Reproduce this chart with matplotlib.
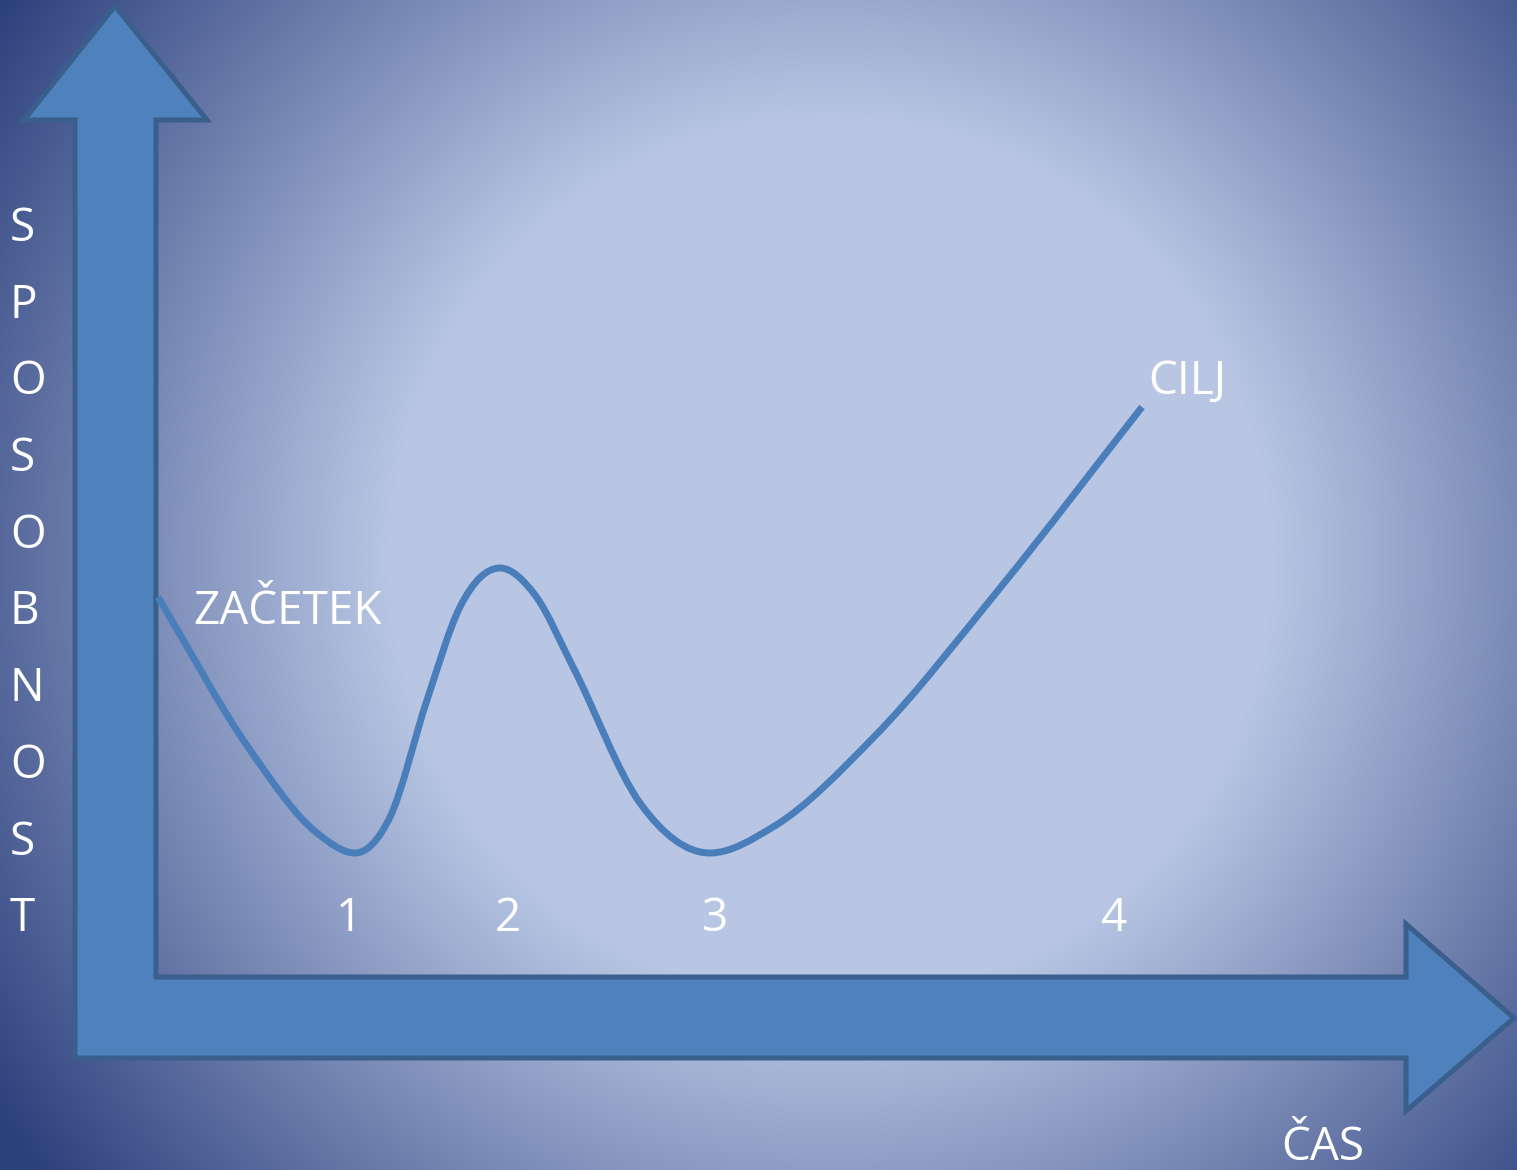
import numpy as np
import matplotlib
matplotlib.use("Agg")
import matplotlib.pyplot as plt
from matplotlib.patches import Polygon, PathPatch
from matplotlib.path import Path

# ---- data (time vs. ability) ----
cas = [158, 250, 317, 355, 390, 427, 460, 500, 535, 573, 640, 710, 773, 873, 1000, 1142]
sposobnost = [573, 420, 337, 317, 353, 470, 563, 602, 575, 503, 367, 317, 343, 432, 582, 763]
faze_oznake = ["1", "2", "3", "4"]
faze_cas = [349, 508, 715, 1114]
y_naslov = "SPOSOBNOST"
x_naslov = "ČAS"
zacetek = "ZAČETEK"
cilj = "CILJ"

W, H = 1517, 1170
fig = plt.figure(figsize=(W / 100, H / 100), dpi=100)
ax = fig.add_axes([0, 0, 1, 1])
ax.set_xlim(0, W)
ax.set_ylim(0, H)
ax.axis("off")

# ---- radial gradient background ----
yy, xx = np.mgrid[0:H, 0:W]
cx, cy = 830, 560
r = np.sqrt((xx - cx) ** 2 + (yy - cy) ** 2)
t = np.clip((r - 440) / (1000 - 440), 0, 1)
light = np.array([184, 198, 228]) / 255
dark = np.array([44, 64, 124]) / 255
img = light[None, None, :] * (1 - t[..., None]) + dark[None, None, :] * t[..., None]
ax.imshow(img, extent=[0, W, 0, H], origin="upper", aspect="auto", zorder=0)

# ---- L-shaped double arrow (axes) ----
def P(px, py):
    return (px, H - py)

verts = [P(115, 6), P(207, 120), P(156, 120), P(156, 977), P(1406, 977), P(1406, 924),
         P(1514, 1018), P(1406, 1111), P(1406, 1058), P(75, 1058), P(75, 120), P(24, 120)]
ax.add_patch(Polygon(verts, closed=True, facecolor="#4f81bd", edgecolor="#3a5f8c",
                     linewidth=3.6, joinstyle="miter", zorder=2))

# ---- smooth curve through the read points (cubic Hermite drawn as Bezier path) ----
x = np.asarray(cas, float)
y = np.asarray(sposobnost, float)
h = np.diff(x)
d = np.diff(y) / h
m = np.empty_like(x)
m[0], m[-1] = d[0], d[-1]
m[1:-1] = (h[1:] * d[:-1] + h[:-1] * d[1:]) / (h[:-1] + h[1:])
m[1:-1][np.sign(d[:-1]) != np.sign(d[1:])] = 0.0   # flat at turning points
path_verts = [(x[0], y[0])]
codes = [Path.MOVETO]
for i in range(len(x) - 1):
    path_verts += [(x[i] + h[i] / 3, y[i] + m[i] * h[i] / 3),
                   (x[i + 1] - h[i] / 3, y[i + 1] - m[i + 1] * h[i] / 3),
                   (x[i + 1], y[i + 1])]
    codes += [Path.CURVE4] * 3
curve = PathPatch(Path(path_verts, codes), facecolor="none", edgecolor="#4a7ebb",
                  linewidth=5.0, capstyle="butt", joinstyle="round", zorder=3)
ax.add_patch(curve)

font = dict(family=["Open Sans", "DejaVu Sans"], color="white", fontsize=33)

# y-axis title, vertical letters
for i, ch in enumerate(y_naslov):
    ax.text(10, H - (241 + i * 76.7), ch, ha="left", va="baseline", **font, zorder=4)

# phase labels
for lab, xv in zip(faze_oznake, faze_cas):
    ax.text(xv, H - 931, lab, ha="center", va="baseline", **font, zorder=4)

ax.text(193, H - 624, zacetek, ha="left", va="baseline", **font, zorder=4)
ax.text(1148, H - 394, cilj, ha="left", va="baseline", **font, zorder=4)
ax.text(1281, H - 1160, x_naslov, ha="left", va="baseline", **font, zorder=4)

fig.savefig("out.png", dpi=100)
